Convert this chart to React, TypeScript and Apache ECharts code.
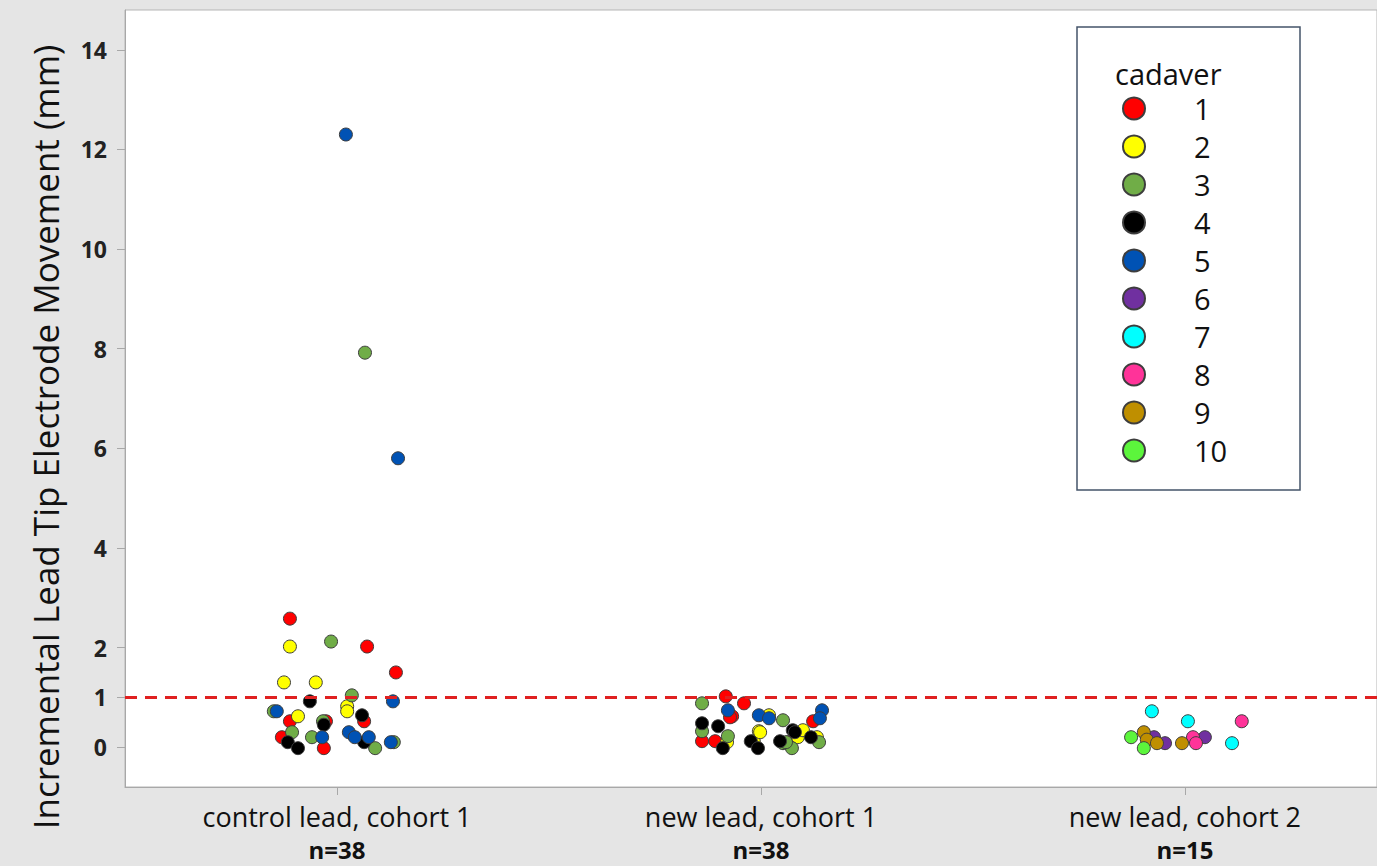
import React, { useEffect, useRef } from "react";
import * as echarts from "echarts";

// [cadaver, jitter offset (category units), movement mm]
const controlCohort1: [number, number, number][] = [
  [1, -0.111, 2.58], [2, -0.111, 2.02], [3, -0.014, 2.12], [1, 0.071, 2.02],
  [1, 0.139, 1.5], [2, -0.125, 1.3], [2, -0.05, 1.3], [3, 0.035, 1.04],
  [4, -0.064, 0.92], [5, 0.132, 0.92], [2, 0.024, 0.82], [2, 0.024, 0.72],
  [5, -0.142, 0.72], [3, -0.149, 0.72], [2, -0.092, 0.62], [1, -0.111, 0.52],
  [4, -0.031, 0.45], [3, -0.033, 0.52], [1, -0.026, 0.52], [4, 0.059, 0.64],
  [1, 0.064, 0.52], [3, -0.106, 0.3], [1, -0.13, 0.2], [4, -0.116, 0.1],
  [4, -0.092, -0.02], [3, -0.059, 0.2], [5, -0.035, 0.2], [1, -0.031, -0.02],
  [5, 0.028, 0.3], [5, 0.042, 0.2], [5, 0.075, 0.2], [4, 0.064, 0.1],
  [3, 0.09, -0.02], [5, 0.127, 0.1], [3, 0.134, 0.1], [5, 0.021, 12.3],
  [3, 0.066, 7.92], [5, 0.144, 5.8],
];

const newLeadCohort1: [number, number, number][] = [
  [3, -0.139, 0.88], [1, -0.083, 1.02], [1, -0.04, 0.88], [5, -0.078, 0.74],
  [1, -0.068, 0.62], [4, -0.139, 0.48], [3, -0.139, 0.32], [1, -0.139, 0.12],
  [4, -0.101, 0.42], [1, -0.108, 0.12], [3, -0.078, 0.22], [2, -0.08, 0.1],
  [4, -0.09, -0.02], [5, -0.005, 0.64], [5, 0.019, 0.58], [2, 0.019, 0.64],
  [3, 0.052, 0.54], [2, -0.005, 0.32], [4, -0.024, 0.12], [2, -0.017, 0.12],
  [4, -0.007, -0.02], [3, 0.052, 0.08], [1, 0.064, 0.1], [4, 0.075, 0.34],
  [2, 0.087, 0.2], [2, 0.099, 0.34], [4, 0.118, 0.2], [1, 0.123, 0.52],
  [5, 0.144, 0.74], [5, 0.139, 0.58], [2, 0.132, 0.2], [3, 0.137, 0.1],
  [3, 0.073, -0.02], [4, 0.045, 0.12], [1, -0.073, 0.6], [2, -0.002, 0.3],
  [4, 0.08, 0.3], [3, 0.059, 0.1],
];

const newLeadCohort2: [number, number, number][] = [
  [10, -0.127, 0.2], [9, -0.097, 0.3], [10, -0.097, -0.02], [7, -0.078, 0.72],
  [9, -0.09, 0.15], [6, -0.073, 0.2], [9, -0.066, 0.08], [6, -0.047, 0.08],
  [9, -0.007, 0.08], [7, 0.007, 0.52], [8, 0.019, 0.2], [8, 0.026, 0.08],
  [6, 0.047, 0.2], [7, 0.111, 0.08], [8, 0.134, 0.52],
];

const groups = [controlCohort1, newLeadCohort1, newLeadCohort2];
const categories = ["control lead, cohort 1", "new lead, cohort 1", "new lead, cohort 2"];
const cadavers = ["1", "2", "3", "4", "5", "6", "7", "8", "9", "10"];
const cadaverColors = [
  "#ff0000", "#ffff00", "#70ad47", "#000000", "#0052b4",
  "#7030a0", "#00ffff", "#ff3399", "#bf8f00", "#5cf53c",
];
const yTicks = [0, 1, 2, 4, 6, 8, 10, 12, 14];
const threshold = 1;

export default function App() {
  const ref = useRef<HTMLDivElement>(null);
  useEffect(() => {
    const chart = echarts.init(ref.current!, null, { renderer: "svg" });
    const series: any[] = cadavers.map((name, ci) => {
      const data: number[][] = [];
      groups.forEach((g, gi) => {
        g.forEach(([c, off, v]) => {
          if (c === ci + 1) data.push([gi + 1 + off, v]);
        });
      });
      const s: any = {
        name,
        type: "scatter",
        data,
        symbol: "circle",
        symbolSize: 13,
        itemStyle: { color: cadaverColors[ci], borderColor: "#3d3d3d", borderWidth: 1, opacity: 1 },
        emphasis: { disabled: true },
      };
      if (ci === 0) {
        s.markLine = {
          silent: true,
          symbol: ["none", "none"],
          label: { show: false },
          lineStyle: { color: "#e02020", type: [12, 8], width: 3 },
          data: [{ yAxis: threshold }],
        };
      }
      return s;
    });
    chart.setOption({
      animation: false,
      backgroundColor: "#e5e5e5",
      textStyle: { fontFamily: "Open Sans" },
      grid: {
        left: 125,
        right: 0,
        top: 10,
        bottom: 76,
        show: true,
        backgroundColor: "#ffffff",
        borderColor: "#b5b5b5",
        borderWidth: 1,
      },
      xAxis: {
        type: "value",
        min: 0.5,
        max: 3.453,
        splitLine: { show: false },
        axisLine: { show: true, onZero: false, lineStyle: { color: "#a8a8a8" } },
        axisTick: { show: true, customValues: [1, 2, 3], length: 8, lineStyle: { color: "#a8a8a8" } },
        axisLabel: {
          customValues: [1, 2, 3],
          margin: 13,
          color: "#111",
          fontSize: 27,
          lineHeight: 33,
          fontFamily: "Open Sans",
          formatter: (v: number) => {
            const i = Math.round(v) - 1;
            return categories[i] + "\n{n|n=" + groups[i].length + "}";
          },
          rich: {
            n: { fontSize: 24, fontWeight: "bold", color: "#111", fontFamily: "Open Sans", lineHeight: 33 },
          },
        },
      },
      yAxis: {
        type: "value",
        min: -0.8,
        max: 14.8,
        splitLine: { show: false },
        axisLine: { show: true, onZero: false, lineStyle: { color: "#a8a8a8" } },
        axisTick: { show: true, customValues: yTicks, length: 8, lineStyle: { color: "#a8a8a8" } },
        axisLabel: {
          customValues: yTicks,
          margin: 18,
          color: "#222",
          fontSize: 23,
          fontWeight: "bold",
          fontFamily: "Open Sans",
        },
      },
      legend: {
        orient: "vertical",
        left: 1117,
        top: 89,
        z: 5,
        icon: "circle",
        itemWidth: 22,
        itemHeight: 22,
        itemGap: 9,
        selectedMode: false,
        textStyle: { fontSize: 29, color: "#111", padding: [0, 0, 0, 44], fontFamily: "Open Sans" },
        data: cadavers,
      },
      graphic: [
        {
          type: "rect",
          z: 3,
          shape: { x: 1077, y: 27, width: 223, height: 463 },
          style: { fill: "#ffffff", stroke: "#44546a", lineWidth: 1.5 },
        },
        {
          type: "text",
          z: 4,
          x: 1115,
          y: 73,
          style: { text: "cadaver", fontSize: 29, fill: "#111", fontFamily: "Open Sans", textVerticalAlign: "middle" },
        },
        {
          type: "text",
          z: 4,
          x: 45,
          y: 437,
          rotation: Math.PI / 2,
          style: {
            text: "Incremental Lead Tip Electrode Movement (mm)",
            fontSize: 35,
            fill: "#111",
            fontFamily: "Open Sans",
            textAlign: "center",
            textVerticalAlign: "middle",
          },
        },
      ],
      series,
    });
    return () => chart.dispose();
  }, []);
  return <div ref={ref} style={{ position: "fixed", left: 0, top: 0, width: 1377, height: 866 }} />;
}
